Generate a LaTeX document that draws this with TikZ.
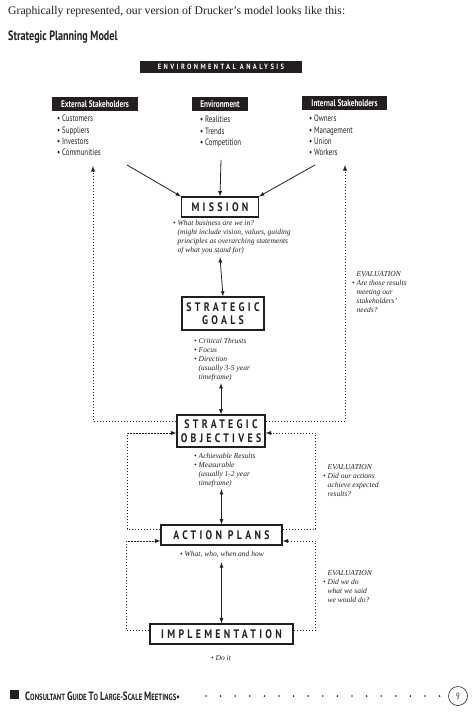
\documentclass[tikz,border=0pt]{standalone}
\usepackage{fontspec}
\setmainfont{Liberation Serif}
\newfontfamily\condfont[FakeStretch=0.75]{PT Sans}
\newfontfamily\titlefont[FakeStretch=0.8,LetterSpace=27]{PT Sans}
\newfontfamily\bannerfont[FakeStretch=0.85,LetterSpace=32]{PT Sans}
\usetikzlibrary{calc}
\definecolor{ink}{HTML}{231F20}
\newcommand{\indnt}{\hphantom{\textbullet\ }}
\newcommand{\fsc}[2]{{\fontsize{12}{12}\selectfont #1}{\fontsize{9}{9}\selectfont #2}}

\begin{document}
\begin{tikzpicture}[x=1pt, y=-1pt, >=latex,
    every node/.style={inner sep=0pt, text=ink},
    hdrbox/.style={fill=ink, text=white, minimum height=14pt,
        font=\condfont\bfseries\fontsize{9.6}{9.6}\selectfont},
    items/.style={anchor=north west, align=left,
        font=\condfont\fontsize{9.2}{11.3}\selectfont},
    stagebox/.style={draw=ink, line width=1.2pt, align=center,
        font=\titlefont\bfseries\fontsize{12.3}{13.5}\selectfont},
    notes/.style={anchor=north west, align=left,
        font=\itshape\fontsize{7.5}{9}\selectfont},
    fb/.style={draw=ink, line width=0.9pt, dash pattern=on 1.1pt off 1.9pt},
    link/.style={draw=ink, line width=0.8pt}]
    \useasboundingbox (0,0) rectangle (474,717);

    % page heading
    \node[anchor=base west, font=\fontsize{11.7}{13}\selectfont] (intro) at (8,15)
        {Graphically represented, our version of Drucker's model looks like this:};
    \node[anchor=base west, font=\condfont\bfseries\fontsize{13.5}{13.5}\selectfont] (title) at (8,41)
        {Strategic Planning Model};

    % environmental analysis
    \node[fill=ink, text=white, minimum width=162pt, minimum height=12pt,
        font=\bannerfont\bfseries\fontsize{7.6}{8}\selectfont] (envan) at (221,67)
        {ENVIRONMENTAL ANALYSIS};

    \node[hdrbox, minimum width=86pt] (exthead) at (95,104) {External Stakeholders};
    \node[hdrbox, minimum width=56pt] (envhead) at (220,104) {Environment};
    \node[hdrbox, minimum width=85pt] (inthead) at (344.5,103) {Internal Stakeholders};

    \node[items] (extlist) at (57,115)
        {\textbullet\ Customers\\ \textbullet\ Suppliers\\ \textbullet\ Investors\\ \textbullet\ Communities};
    \node[items] (envlist) at (200,116)
        {\textbullet\ Realities\\ \textbullet\ Trends\\ \textbullet\ Competition};
    \node[items] (intlist) at (309,115)
        {\textbullet\ Owners\\ \textbullet\ Management\\ \textbullet\ Union\\ \textbullet\ Workers};

    \coordinate (extout) at (127,165);
    \coordinate (envout) at (221,160);
    \coordinate (intout) at (315,165);
    \coordinate (extin) at (93,166);
    \coordinate (intin) at (345,165);

    % planning stages
    \node[stagebox, minimum width=77pt, minimum height=20pt] (mission) at (220,207) {MISSION};
    \node[stagebox, minimum width=82pt, minimum height=33pt] (goals) at (223,313.5) {STRATEGIC\\GOALS};
    \node[stagebox, minimum width=88pt, minimum height=32pt] (obj) at (221,431) {STRATEGIC\\OBJECTIVES};
    \node[stagebox, minimum width=121pt, minimum height=20pt] (action) at (221.5,535) {ACTION PLANS};
    \node[stagebox, minimum width=143pt, minimum height=20pt] (impl) at (221.5,634) {IMPLEMENTATION};

    \node[notes] (missiontxt) at (173,220)
        {\textbullet\ What business are we in?\\
         \indnt(might include vision, values, guiding\\
         \indnt principles as overarching statements\\
         \indnt of what you stand for)};
    \node[notes] (goalstxt) at (194,338)
        {\textbullet\ Critical Thrusts\\ \textbullet\ Focus\\ \textbullet\ Direction\\
         \indnt(usually 3-5 year\\ \indnt timeframe)};
    \node[notes] (objtxt) at (194,453)
        {\textbullet\ Achievable Results\\ \textbullet\ Measurable\\
         \indnt(usually 1-2 year\\ \indnt timeframe)};
    \node[notes, anchor=center] (actiontxt) at (222,554) {\textbullet\ What, who, when and how};
    \node[notes, anchor=center] (impltxt) at (221,658) {\textbullet\ Do it};

    % evaluation notes
    \node[notes] (eval1) at (352,271)
        {\indnt EVALUATION\\ \textbullet\ Are those results\\ \indnt meeting our\\
         \indnt stakeholders'\\ \indnt needs?};
    \node[notes] (eval2) at (323,464)
        {\indnt EVALUATION\\ \textbullet\ Did our actions\\ \indnt achieve expected\\ \indnt results?};
    \node[notes] (eval3) at (323,570)
        {\indnt EVALUATION\\ \textbullet\ Did we do\\ \indnt what we said\\ \indnt we would do?};

    % solid links
    \draw[link,->] (extout) -- (mission.north west);
    \draw[link,->] (envout) -- (mission.north);
    \draw[link,->] (intout) -- (mission.north east);
    \draw[link,<->] ($(missiontxt.south -| mission.south)+(0,3)$) -- (goals.north);
    \draw[link,<->] ($(goalstxt.south -| obj.north)+(0,2)$) -- (obj.north);
    \draw[link,<->] ($(objtxt.south -| action.north)+(0,2)$) -- (action.north);
    \draw[link,<->] ($(actiontxt.south -| impl.north)+(0,5)$) -- (impl.north);

    % feedback loops
    \draw[fb,->] ([yshift=10pt]obj.west) -| (extin);
    \draw[fb,->] ([yshift=10pt]obj.east) -| (intin);
    \draw[fb,->] ([yshift=6pt]action.west) -- ++(-33,0) |- ([yshift=-2pt]obj.west);
    \draw[fb,->] ([yshift=6pt]action.east) -- ++(33,0) |- ([yshift=-2pt]obj.east);
    \draw[fb,->] ([yshift=4pt]impl.west) -- ++(-23,0) |- ([yshift=-6pt]action.west);
    \draw[fb,->] ([yshift=4pt]impl.east) -- ++(22,0) |- ([yshift=-6pt]action.east);

    % footer
    \fill[ink] (10,690) rectangle (19,699);
    \node[anchor=base west, font=\condfont\bfseries] (footer) at (25,700)
        {\fsc{C}{ONSULTANT} \fsc{G}{UIDE} \fsc{T}{O} \fsc{L}{ARGE}-\fsc{S}{CALE} \fsc{M}{EETINGS}\textbullet};
    \foreach \i in {0,...,16}
        \fill[ink] (206+\i*14.6,696) circle (0.9pt);
    \node[draw=ink, circle, minimum size=19pt, line width=0.6pt,
        font=\condfont\fontsize{9}{9}\selectfont] (pagenum) at (458,696) {9};
\end{tikzpicture}
\end{document}
